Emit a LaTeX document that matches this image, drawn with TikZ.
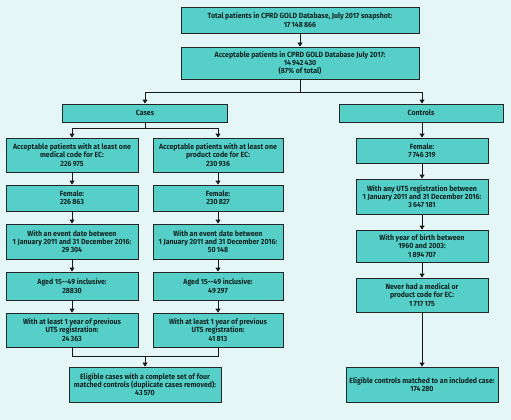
\documentclass[tikz,border=0pt]{standalone}
\usepackage{fontspec}
\newfontfamily\boxfont{Fira Sans Bold}[FakeStretch=0.93]
\usetikzlibrary{arrows.meta}
\definecolor{bgcyan}{HTML}{E4F6F6}
\definecolor{boxteal}{HTML}{55CFC8}
\definecolor{boxtext}{HTML}{0F2524}
\tikzset{
	stepbox/.style = {draw=black!85, fill=boxteal, line width=0.9pt, align=center, inner sep=0pt, text=boxtext, font=\boxfont\fontsize{7.5}{8.3}\selectfont},
	topbox/.style = {stepbox, minimum width=238pt},
	groupbox/.style = {stepbox, minimum width=165pt, minimum height=18pt},
	colbox/.style = {stepbox, minimum width=132pt},
	finalbox/.style = {stepbox, minimum width=152pt, minimum height=35pt},
	flow/.style = {line width=0.9pt, black!90},
	flowarrow/.style = {flow, -{Triangle[width=5pt,length=4pt]}}
}
\begin{document}
\begin{tikzpicture}[x=1pt, y=-1pt]
	\fill[bgcyan] (0,0) rectangle (511,420);
	\useasboundingbox (0,0) rectangle (511,420);
	\node [topbox, minimum height=26pt] (total) at (300,20) {Total patients in CPRD GOLD Database, July 2017 snapshot:\\17\,148\,866};
	\node [topbox, minimum height=32pt] (accept) at (300,63) {Acceptable patients in CPRD GOLD Database July 2017:\\14\,942\,430\\(87\% of total)};
	\node [groupbox] (cases) at (145,113) {Cases};
	\node [groupbox, minimum width=164pt] (controls) at (421,113) {Controls};
	\coordinate (split) at (300,92);
	\coordinate (casesplit) at (145,128);
	\coordinate (merge) at (145,356);
	\node [colbox, minimum height=34pt] (medcode) at (72,155) {Acceptable patients with at least one\\medical code for EC:\\226\,975};
	\node [colbox, minimum height=26pt] (femmed) at (72,198) {Female:\\226\,863};
	\node [colbox, minimum height=35pt] (eventmed) at (72,241.5) {With an event date between\\1 January 2011 and 31 December 2016:\\29\,304};
	\node [colbox, minimum height=28pt] (agedmed) at (72,286) {Aged 15--49 inclusive:\\28830};
	\node [colbox, minimum height=34pt] (utsmed) at (72,330) {With at least 1 year of previous\\UTS registration:\\24\,363};
	\node [colbox, minimum width=130pt, minimum height=34pt] (prodcode) at (218,155) {Acceptable patients with at least one\\product code for EC:\\230\,936};
	\node [colbox, minimum width=130pt, minimum height=26pt] (femprod) at (218,198) {Female:\\230\,827};
	\node [colbox, minimum width=130pt, minimum height=35pt] (eventprod) at (218,241.5) {With an event date between\\1 January 2011 and 31 December 2016:\\50\,148};
	\node [colbox, minimum width=130pt, minimum height=28pt] (agedprod) at (218,286) {Aged 15--49 inclusive:\\49\,297};
	\node [colbox, minimum width=130pt, minimum height=34pt] (utsprod) at (218,330) {With at least 1 year of previous\\UTS registration:\\41\,813};
	\node [finalbox] (eligcases) at (145,384.5) {Eligible cases with a complete set of four\\matched controls (duplicate cases removed):\\43\,570};
	\node [colbox, minimum height=25pt] (femctrl) at (422,150.5) {Female:\\7\,746\,319};
	\node [colbox, minimum height=35pt] (utsctrl) at (422,196.5) {With any UTS registration between\\1 January 2011 and 31 December 2016:\\3\,647\,181};
	\node [colbox, minimum height=32pt] (birthctrl) at (422,246) {With year of birth between\\1960 and 2003:\\1\,894\,707};
	\node [colbox, minimum height=34pt] (neverctrl) at (422,295) {Never had a medical or\\product code for EC:\\1\,717\,175};
	\node [finalbox] (eligctrl) at (422,384.5) {Eligible controls matched to an included case:\\174\,280};
	\draw [flowarrow] (total) -- (accept);
	\draw [flow] (accept) -- (split);
	\draw [flowarrow] (split) -| (cases);
	\draw [flowarrow] (split) -| (controls.north -| femctrl);
	\draw [flow] (cases) -- (casesplit);
	\draw [flowarrow] (casesplit) -| (medcode);
	\draw [flowarrow] (casesplit) -| (prodcode);
	\draw [flowarrow] (medcode) -- (femmed);
	\draw [flowarrow] (femmed) -- (eventmed);
	\draw [flowarrow] (eventmed) -- (agedmed);
	\draw [flowarrow] (agedmed) -- (utsmed);
	\draw [flowarrow] (prodcode) -- (femprod);
	\draw [flowarrow] (femprod) -- (eventprod);
	\draw [flowarrow] (eventprod) -- (agedprod);
	\draw [flowarrow] (agedprod) -- (utsprod);
	\draw [flow] (utsmed) |- (merge);
	\draw [flow] (utsprod) |- (merge);
	\draw [flowarrow] (merge) -- (eligcases);
	\draw [flowarrow] (controls.south -| femctrl) -- (femctrl);
	\draw [flowarrow] (femctrl) -- (utsctrl);
	\draw [flowarrow] (utsctrl) -- (birthctrl);
	\draw [flowarrow] (birthctrl) -- (neverctrl);
	\draw [flowarrow] (neverctrl) -- (eligctrl);
\end{tikzpicture}
\end{document}
